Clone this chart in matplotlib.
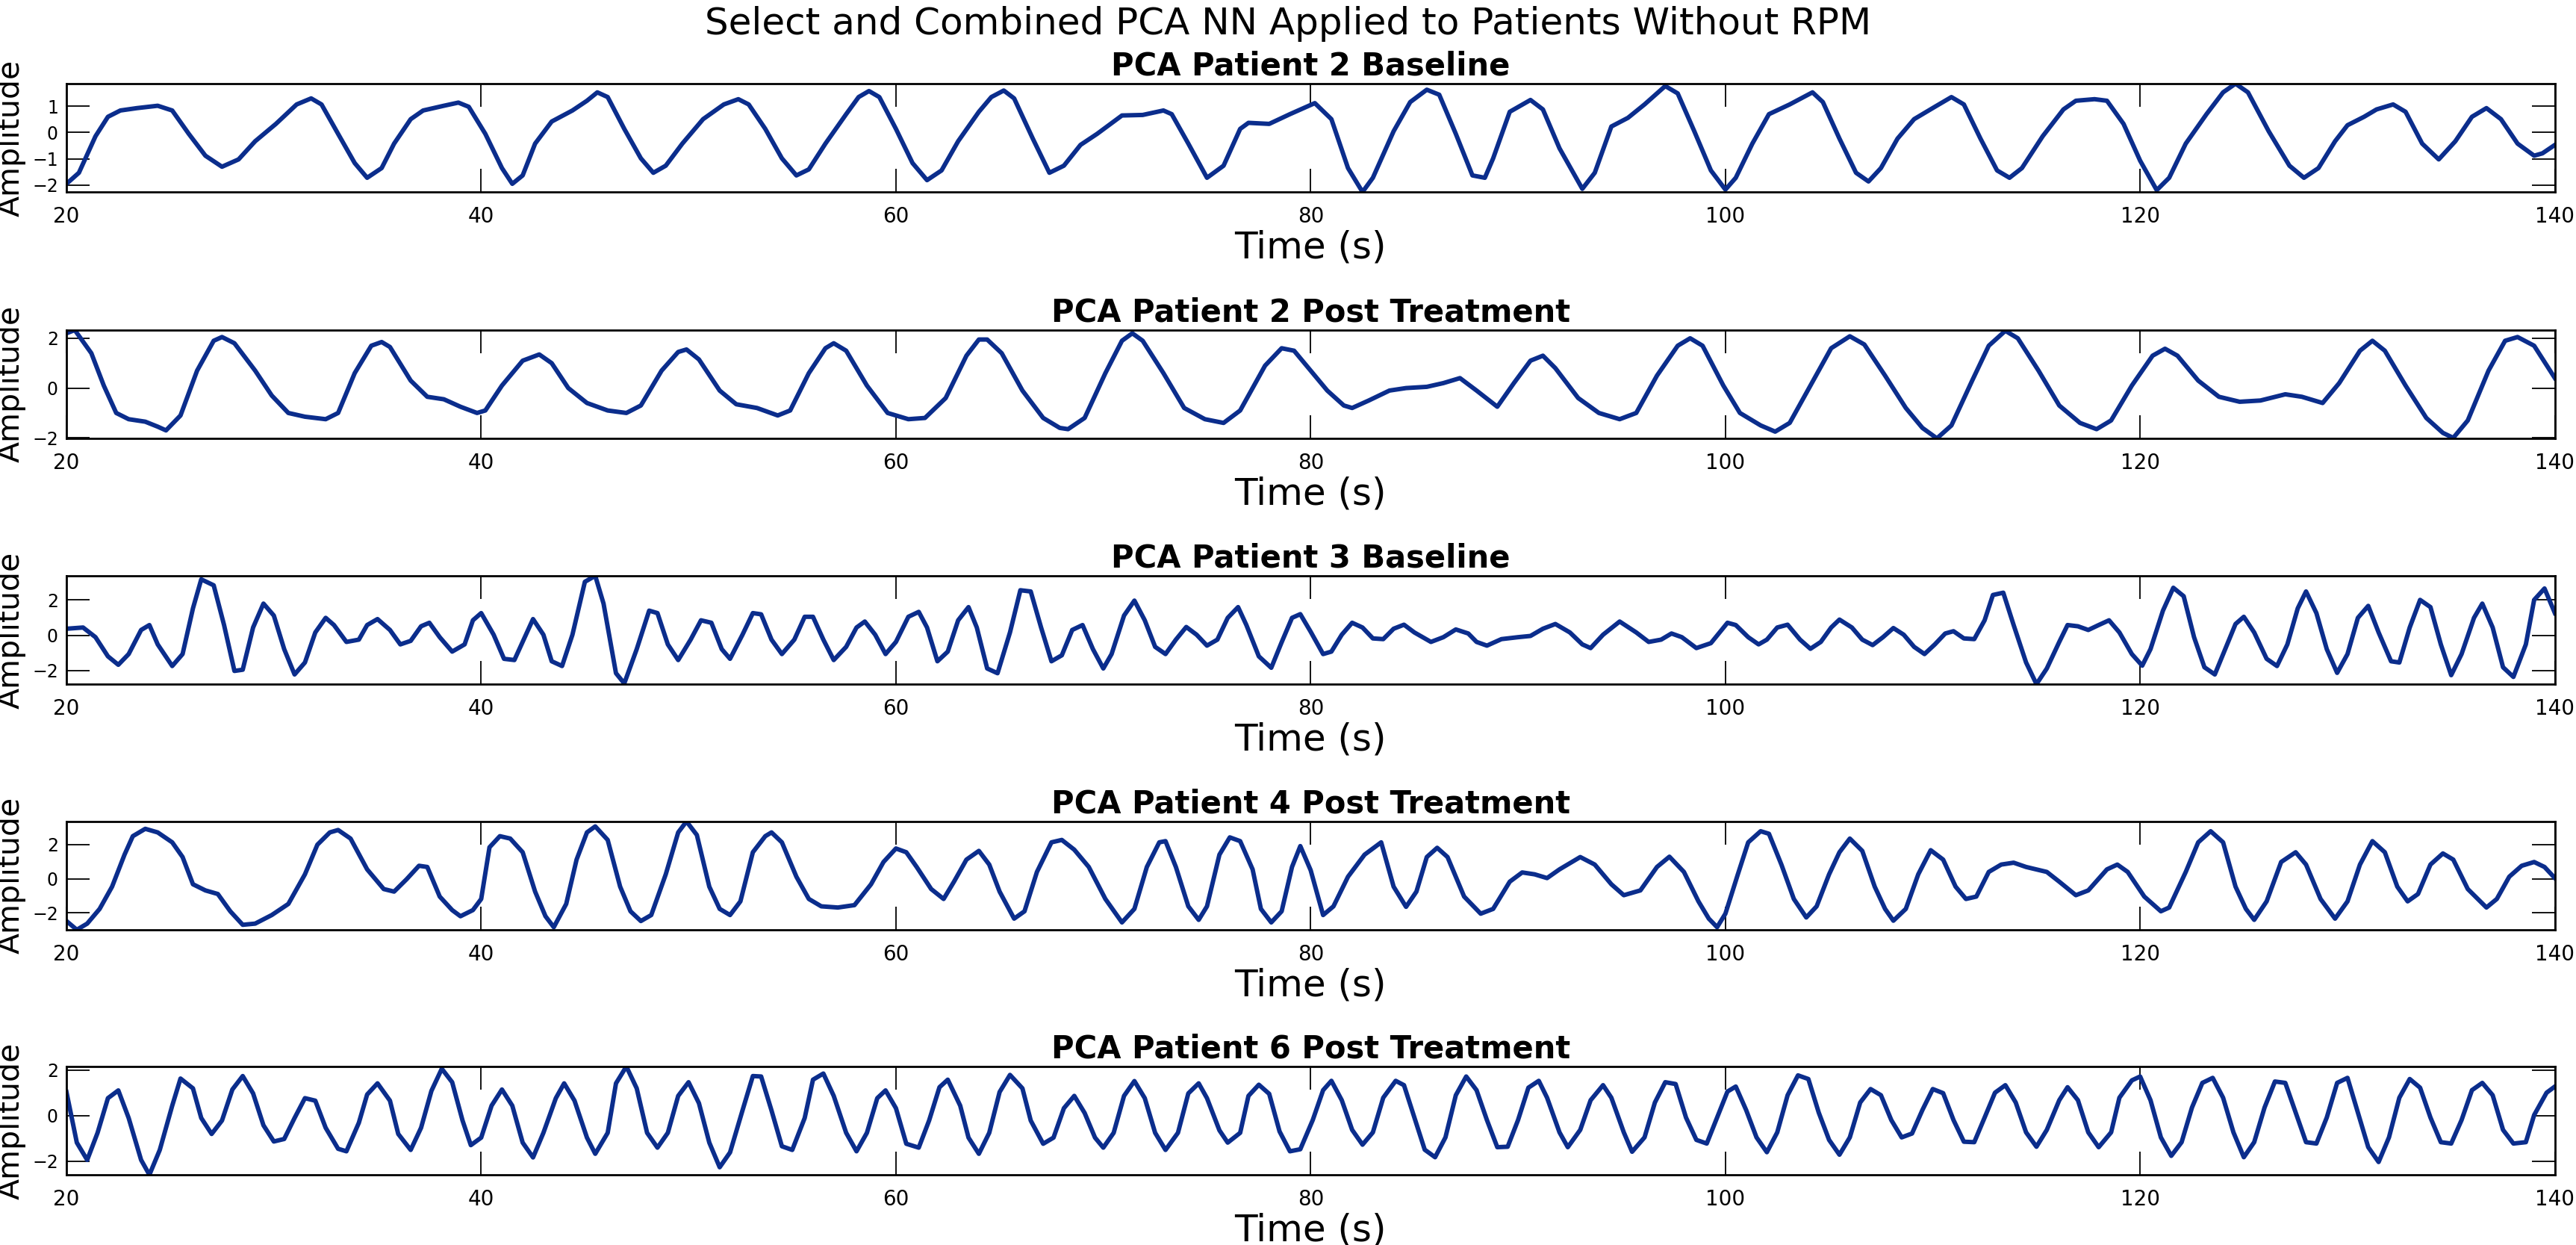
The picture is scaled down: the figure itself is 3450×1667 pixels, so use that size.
import matplotlib
matplotlib.use('Agg')
import matplotlib.pyplot as plt

# (tempo [s], ampiezza)
p2_base = [
    (20.0, -1.95), (20.6, -1.53), (21.4, -0.14), (22.0, 0.6), (22.6, 0.84), (23.4, 0.93), (24.4, 1.02),
    (25.1, 0.84), (25.9, -0.05), (26.7, -0.88), (27.5, -1.3), (28.3, -1.02), (29.1, -0.33), (30.1, 0.33),
    (31.1, 1.07), (31.8, 1.3), (32.3, 1.07), (33.1, -0.05), (33.9, -1.16), (34.5, -1.72), (35.2, -1.35),
    (35.8, -0.42), (36.6, 0.51), (37.2, 0.84), (38.2, 1.02), (38.9, 1.14), (39.4, 0.98), (40.2, -0.05),
    (41.0, -1.35), (41.5, -1.95), (42.0, -1.63), (42.6, -0.42), (43.4, 0.42), (44.4, 0.84), (45.1, 1.21),
    (45.6, 1.53), (46.1, 1.35), (46.9, 0.14), (47.7, -0.98), (48.3, -1.53), (48.9, -1.26), (49.7, -0.42),
    (50.7, 0.51), (51.7, 1.07), (52.4, 1.27), (52.9, 1.07), (53.7, 0.14), (54.5, -0.98), (55.2, -1.63),
    (55.8, -1.4), (56.6, -0.42), (57.6, 0.7), (58.2, 1.35), (58.7, 1.58), (59.2, 1.35), (60.0, 0.14),
    (60.8, -1.16), (61.5, -1.81), (62.2, -1.44), (63.0, -0.33), (64.0, 0.79), (64.6, 1.35), (65.2, 1.6),
    (65.7, 1.3), (66.6, -0.23), (67.4, -1.53), (68.1, -1.26), (68.9, -0.47), (69.7, -0.05), (70.9, 0.65),
    (71.9, 0.67), (72.9, 0.84), (73.3, 0.7), (74.1, -0.42), (75.0, -1.72), (75.8, -1.26), (76.6, 0.14),
    (77.0, 0.37), (78.0, 0.33), (79.0, 0.7), (80.2, 1.12), (81.0, 0.51), (81.8, -1.35), (82.5, -2.26),
    (83.0, -1.72), (84.0, 0.05), (84.8, 1.16), (85.6, 1.63), (86.2, 1.44), (87.0, -0.05), (87.8, -1.63),
    (88.4, -1.72), (88.8, -0.98), (89.6, 0.79), (90.6, 1.24), (91.2, 0.88), (92.0, -0.6), (93.1, -2.14),
    (93.7, -1.53), (94.5, 0.23), (95.3, 0.56), (96.1, 1.07), (97.1, 1.77), (97.7, 1.49), (98.5, 0.05),
    (99.3, -1.44), (100.0, -2.17), (100.5, -1.72), (101.3, -0.42), (102.1, 0.7), (103.1, 1.07),
    (104.2, 1.53), (104.7, 1.16), (105.5, -0.23), (106.3, -1.53), (106.9, -1.86), (107.5, -1.35),
    (108.3, -0.23), (109.1, 0.51), (110.1, 0.98), (110.9, 1.35), (111.5, 1.07), (112.3, -0.23),
    (113.1, -1.44), (113.7, -1.72), (114.3, -1.35), (115.3, -0.14), (116.3, 0.88), (116.9, 1.21),
    (117.8, 1.27), (118.4, 1.21), (119.2, 0.33), (120.0, -1.07), (120.8, -2.19), (121.4, -1.72),
    (122.2, -0.42), (123.2, 0.7), (124.0, 1.53), (124.6, 1.86), (125.2, 1.53), (126.2, 0.05),
    (127.2, -1.26), (127.9, -1.72), (128.6, -1.35), (129.4, -0.33), (130.0, 0.28), (130.8, 0.6),
    (131.4, 0.88), (132.2, 1.07), (132.8, 0.79), (133.6, -0.42), (134.4, -1.02), (135.2, -0.33),
    (136.0, 0.6), (136.7, 0.93), (137.4, 0.51), (138.2, -0.42), (139.0, -0.88), (139.4, -0.79), (140.0, -0.47),
]

p2_post = [
    (20.0, 2.2), (20.4, 2.33), (21.2, 1.4), (21.8, 0.1), (22.4, -1.0), (23.0, -1.25), (23.8, -1.35),
    (24.4, -1.55), (24.8, -1.7), (25.5, -1.1), (26.3, 0.7), (27.1, 1.9), (27.5, 2.05), (28.1, 1.8),
    (29.1, 0.7), (29.9, -0.3), (30.7, -1.0), (31.5, -1.15), (32.5, -1.25), (33.1, -1.0), (33.9, 0.6),
    (34.7, 1.7), (35.2, 1.85), (35.6, 1.65), (36.6, 0.3), (37.4, -0.35), (38.2, -0.45), (39.0, -0.75),
    (39.8, -1.0), (40.2, -0.9), (41.0, 0.1), (42.0, 1.1), (42.8, 1.35), (43.4, 1.0), (44.2, 0.0),
    (45.1, -0.6), (46.1, -0.9), (47.0, -1.0), (47.7, -0.7), (48.7, 0.7), (49.5, 1.45), (49.9, 1.55),
    (50.5, 1.15), (51.5, -0.1), (52.3, -0.65), (53.3, -0.8), (54.3, -1.1), (54.9, -0.9), (55.8, 0.6),
    (56.6, 1.6), (57.0, 1.8), (57.6, 1.5), (58.6, 0.1), (59.6, -1.0), (60.6, -1.25), (61.4, -1.2),
    (62.4, -0.4), (63.4, 1.3), (64.0, 1.95), (64.4, 1.95), (65.1, 1.4), (66.1, -0.1), (67.1, -1.2),
    (67.9, -1.6), (68.3, -1.65), (69.1, -1.2), (70.1, 0.6), (70.9, 1.9), (71.4, 2.2), (71.9, 1.9),
    (72.9, 0.6), (73.9, -0.8), (74.9, -1.25), (75.8, -1.4), (76.6, -0.9), (77.8, 0.9), (78.6, 1.6),
    (79.2, 1.5), (80.0, 0.7), (80.8, -0.1), (81.6, -0.7), (82.0, -0.8), (82.8, -0.5), (83.8, -0.1),
    (84.6, 0.0), (85.6, 0.05), (86.4, 0.2), (87.2, 0.4), (88.0, -0.1), (89.0, -0.75), (89.8, 0.2),
    (90.6, 1.1), (91.2, 1.3), (91.8, 0.8), (92.9, -0.4), (93.9, -1.0), (94.9, -1.25), (95.7, -1.0),
    (96.7, 0.5), (97.7, 1.7), (98.3, 2.0), (98.9, 1.7), (99.9, 0.1), (100.7, -1.0), (101.7, -1.5),
    (102.4, -1.75), (103.1, -1.4), (104.1, 0.1), (105.1, 1.6), (106.0, 2.08), (106.7, 1.75),
    (107.7, 0.5), (108.7, -0.8), (109.5, -1.6), (110.2, -2.02), (110.9, -1.5), (111.9, 0.3),
    (112.7, 1.7), (113.5, 2.3), (114.1, 2.0), (115.1, 0.7), (116.1, -0.7), (117.1, -1.4),
    (117.9, -1.65), (118.6, -1.3), (119.6, 0.1), (120.6, 1.3), (121.2, 1.58), (121.8, 1.3),
    (122.8, 0.3), (123.8, -0.35), (124.8, -0.55), (125.8, -0.5), (127.0, -0.25), (127.8, -0.35),
    (128.8, -0.6), (129.6, 0.2), (130.6, 1.5), (131.2, 1.9), (131.8, 1.5), (132.8, 0.1), (133.8, -1.2),
    (134.6, -1.8), (135.1, -2.0), (135.8, -1.3), (136.8, 0.7), (137.6, 1.9), (138.2, 2.05), (139.0, 1.7),
    (140.0, 0.4),
]

p3_base = [
    (20.0, 0.37), (20.8, 0.44), (21.4, -0.11), (22.0, -1.2), (22.5, -1.68), (23.0, -1.07), (23.6, 0.3),
    (24.0, 0.58), (24.4, -0.52), (25.1, -1.75), (25.6, -1.07), (26.1, 1.53), (26.5, 3.18), (27.1, 2.84),
    (27.6, 0.58), (28.1, -2.03), (28.5, -1.96), (29.0, 0.44), (29.5, 1.8), (30.0, 1.12), (30.5, -0.79),
    (31.0, -2.23), (31.5, -1.55), (32.0, 0.16), (32.5, 0.99), (32.9, 0.58), (33.5, -0.38), (34.1, -0.25),
    (34.5, 0.58), (35.0, 0.92), (35.6, 0.3), (36.1, -0.52), (36.6, -0.32), (37.1, 0.51), (37.5, 0.71),
    (38.0, -0.11), (38.6, -0.93), (39.2, -0.52), (39.6, 0.85), (40.0, 1.26), (40.6, 0.03), (41.1, -1.34),
    (41.6, -1.41), (42.1, -0.11), (42.5, 0.92), (43.0, 0.03), (43.4, -1.48), (43.9, -1.75), (44.4, 0.03),
    (45.0, 3.04), (45.5, 3.38), (45.9, 1.8), (46.5, -2.16), (46.9, -2.74), (47.5, -0.79), (48.1, 1.4),
    (48.5, 1.26), (49.0, -0.52), (49.5, -1.41), (50.1, -0.25), (50.6, 0.85), (51.1, 0.71), (51.6, -0.79),
    (52.0, -1.34), (52.6, 0.03), (53.1, 1.26), (53.5, 1.19), (54.0, -0.25), (54.5, -1.07), (55.1, -0.25),
    (55.6, 1.05), (56.0, 1.05), (56.5, -0.25), (57.0, -1.41), (57.6, -0.66), (58.1, 0.44), (58.5, 0.78),
    (59.0, 0.03), (59.5, -1.07), (60.0, -0.38), (60.6, 1.05), (61.1, 1.33), (61.5, 0.44), (62.0, -1.48),
    (62.5, -0.93), (63.0, 0.85), (63.5, 1.6), (63.9, 0.44), (64.4, -1.89), (64.9, -2.16), (65.5, 0.16),
    (66.0, 2.56), (66.5, 2.49), (67.0, 0.44), (67.5, -1.48), (68.0, -1.14), (68.5, 0.3), (69.0, 0.58),
    (69.5, -0.79), (70.0, -1.89), (70.4, -1.07), (71.0, 1.12), (71.5, 1.97), (72.0, 0.85), (72.5, -0.66),
    (73.0, -1.07), (73.5, -0.25), (74.0, 0.47), (74.5, 0.03), (75.0, -0.59), (75.5, -0.25), (76.0, 0.99),
    (76.5, 1.6), (76.9, 0.58), (77.5, -1.2), (78.1, -1.85), (78.6, -0.4), (79.1, 0.99), (79.5, 1.2),
    (80.0, 0.2), (80.6, -1.07), (81.0, -0.93), (81.5, 0.03), (82.0, 0.71), (82.5, 0.44), (83.0, -0.18),
    (83.5, -0.22), (84.0, 0.37), (84.5, 0.6), (85.0, 0.16), (85.8, -0.38), (86.4, -0.11), (87.0, 0.33),
    (87.6, 0.1), (88.0, -0.38), (88.5, -0.59), (89.2, -0.22), (90.0, -0.11), (90.6, -0.04), (91.2, 0.37),
    (91.8, 0.64), (92.5, 0.16), (93.1, -0.52), (93.5, -0.73), (94.1, 0.03), (94.9, 0.78), (95.7, 0.16),
    (96.3, -0.38), (96.9, -0.25), (97.4, 0.1), (97.9, -0.11), (98.6, -0.73), (99.3, -0.45), (100.1, 0.71),
    (100.5, 0.58), (101.1, -0.11), (101.6, -0.52), (102.0, -0.25), (102.5, 0.44), (103.0, 0.6),
    (103.6, -0.25), (104.1, -0.77), (104.6, -0.38), (105.1, 0.44), (105.5, 0.89), (106.1, 0.44),
    (106.6, -0.25), (107.1, -0.56), (107.6, -0.11), (108.1, 0.41), (108.6, 0.03), (109.1, -0.66),
    (109.6, -1.07), (110.1, -0.52), (110.6, 0.1), (111.0, 0.23), (111.5, -0.18), (112.0, -0.22),
    (112.5, 0.85), (112.9, 2.29), (113.4, 2.42), (113.9, 0.58), (114.5, -1.55), (115.0, -2.78),
    (115.5, -1.89), (116.1, -0.38), (116.5, 0.58), (117.0, 0.51), (117.5, 0.3), (118.0, 0.58),
    (118.5, 0.85), (119.0, 0.16), (119.6, -1.07), (120.1, -1.73), (120.5, -0.79), (121.1, 1.4),
    (121.6, 2.7), (122.1, 2.22), (122.6, -0.11), (123.1, -1.82), (123.6, -2.23), (124.1, -0.79),
    (124.6, 0.64), (125.0, 1.05), (125.5, 0.16), (126.1, -1.34), (126.6, -1.75), (127.1, -0.52),
    (127.6, 1.53), (128.0, 2.49), (128.5, 1.26), (129.0, -0.79), (129.5, -2.14), (130.0, -1.07),
    (130.5, 0.99), (131.0, 1.67), (131.5, 0.16), (132.1, -1.48), (132.5, -1.55), (133.0, 0.44),
    (133.5, 2.01), (134.0, 1.6), (134.5, -0.52), (135.0, -2.27), (135.5, -1.07), (136.1, 0.99),
    (136.5, 1.8), (137.0, 0.44), (137.5, -1.82), (138.0, -2.37), (138.6, -0.52), (139.0, 2.01),
    (139.5, 2.66), (140.0, 1.26),
]

p4_post = [
    (20.0, -2.47), (20.5, -2.98), (21.0, -2.62), (21.6, -1.76), (22.2, -0.46), (22.8, 1.41), (23.2, 2.49),
    (23.8, 2.92), (24.4, 2.71), (25.1, 2.13), (25.6, 1.27), (26.1, -0.32), (26.7, -0.68), (27.3, -0.89),
    (27.9, -1.9), (28.5, -2.69), (29.1, -2.62), (29.9, -2.12), (30.7, -1.47), (31.5, 0.26), (32.1, 1.99),
    (32.7, 2.71), (33.1, 2.85), (33.7, 2.35), (34.5, 0.55), (35.3, -0.6), (35.8, -0.75), (36.4, -0.03),
    (37.0, 0.76), (37.4, 0.69), (38.0, -1.04), (38.6, -1.83), (39.0, -2.19), (39.6, -1.83), (40.0, -1.18),
    (40.4, 1.84), (40.9, 2.49), (41.4, 2.35), (42.0, 1.55), (42.6, -0.75), (43.1, -2.19), (43.5, -2.83),
    (44.1, -1.47), (44.6, 1.12), (45.1, 2.71), (45.5, 3.06), (46.1, 2.27), (46.7, -0.46), (47.2, -1.9),
    (47.7, -2.47), (48.2, -2.12), (48.9, 0.26), (49.5, 2.71), (49.9, 3.35), (50.4, 2.56), (51.0, -0.46),
    (51.5, -1.76), (52.0, -2.12), (52.5, -1.32), (53.1, 1.55), (53.7, 2.49), (54.0, 2.71), (54.5, 2.13),
    (55.2, 0.12), (55.8, -1.18), (56.4, -1.61), (57.2, -1.68), (58.0, -1.54), (58.8, -0.32), (59.4, 0.98),
    (60.0, 1.77), (60.5, 1.55), (61.0, 0.69), (61.7, -0.6), (62.3, -1.18), (62.8, -0.17), (63.4, 1.12),
    (64.0, 1.63), (64.5, 0.83), (65.0, -0.75), (65.7, -2.33), (66.2, -1.9), (66.8, 0.4), (67.5, 2.13),
    (68.0, 2.27), (68.6, 1.7), (69.3, 0.69), (70.1, -1.18), (70.9, -2.55), (71.5, -1.76), (72.1, 0.69),
    (72.7, 2.13), (73.0, 2.2), (73.5, 0.69), (74.1, -1.61), (74.6, -2.4), (75.0, -1.61), (75.6, 1.41),
    (76.1, 2.42), (76.6, 2.2), (77.2, 0.55), (77.6, -1.76), (78.1, -2.55), (78.6, -1.9), (79.1, 0.69),
    (79.5, 1.91), (80.0, 0.5), (80.6, -2.12), (81.1, -1.61), (81.8, 0.12), (82.6, 1.41), (83.4, 2.13),
    (84.0, -0.46), (84.6, -1.64), (85.1, -0.75), (85.6, 1.27), (86.1, 1.81), (86.6, 1.27), (87.4, -1.04),
    (88.2, -2.04), (88.8, -1.76), (89.6, -0.17), (90.2, 0.37), (90.8, 0.26), (91.4, 0.04), (92.0, 0.55),
    (93.0, 1.27), (93.7, 0.83), (94.5, -0.32), (95.1, -0.96), (95.9, -0.68), (96.7, 0.69), (97.3, 1.29),
    (98.0, 0.4), (98.7, -1.32), (99.2, -2.33), (99.6, -2.83), (100.0, -2.04), (100.6, 0.26), (101.1, 2.13),
    (101.7, 2.78), (102.1, 2.63), (102.7, 0.83), (103.3, -1.18), (103.9, -2.26), (104.4, -1.61),
    (105.0, 0.26), (105.5, 1.55), (106.0, 2.35), (106.6, 1.63), (107.2, -0.46), (107.7, -1.76),
    (108.1, -2.45), (108.7, -1.76), (109.3, 0.26), (109.9, 1.67), (110.5, 1.12), (111.1, -0.46),
    (111.6, -1.18), (112.1, -1.04), (112.7, 0.4), (113.3, 0.83), (113.9, 0.94), (114.5, 0.69),
    (115.5, 0.4), (116.1, -0.17), (116.9, -0.96), (117.5, -0.68), (118.4, 0.55), (118.9, 0.83),
    (119.4, 0.4), (120.2, -1.04), (121.0, -1.9), (121.4, -1.68), (122.2, 0.4), (122.8, 2.13),
    (123.4, 2.78), (124.0, 2.13), (124.6, -0.46), (125.1, -1.76), (125.5, -2.4), (126.1, -1.32),
    (126.8, 0.98), (127.5, 1.55), (128.0, 0.83), (128.7, -1.18), (129.4, -2.33), (130.0, -1.32),
    (130.6, 0.83), (131.2, 2.2), (131.8, 1.55), (132.4, -0.46), (132.9, -1.32), (133.4, -0.89),
    (134.0, 0.83), (134.6, 1.48), (135.1, 1.12), (135.8, -0.6), (136.7, -1.68), (137.2, -1.18),
    (137.8, 0.12), (138.4, 0.76), (139.0, 0.98), (139.5, 0.69), (140.0, 0.04),
]

p6_post = [
    (20.0, 1.03), (20.5, -1.19), (21.0, -1.95), (21.5, -0.76), (22.0, 0.76), (22.5, 1.1), (23.0, -0.11),
    (23.6, -1.95), (24.0, -2.6), (24.5, -1.51), (25.1, 0.43), (25.5, 1.62), (26.1, 1.19), (26.5, -0.11),
    (27.0, -0.81), (27.5, -0.22), (28.0, 1.14), (28.5, 1.73), (29.0, 0.97), (29.5, -0.43), (30.0, -1.14),
    (30.5, -1.03), (31.0, -0.11), (31.5, 0.76), (32.0, 0.65), (32.5, -0.54), (33.1, -1.46), (33.5, -1.57),
    (34.1, -0.32), (34.5, 0.92), (35.0, 1.41), (35.6, 0.65), (36.0, -0.81), (36.6, -1.51), (37.1, -0.54),
    (37.6, 1.08), (38.1, 2.05), (38.6, 1.46), (39.1, -0.22), (39.5, -1.3), (40.0, -0.97), (40.5, 0.43),
    (41.0, 1.14), (41.5, 0.43), (42.0, -1.19), (42.5, -1.84), (43.0, -0.76), (43.6, 0.76), (44.0, 1.41),
    (44.5, 0.65), (45.1, -0.97), (45.5, -1.68), (46.1, -0.76), (46.5, 1.41), (47.0, 2.15), (47.5, 1.19),
    (48.0, -0.76), (48.5, -1.41), (49.0, -0.76), (49.5, 0.86), (50.0, 1.46), (50.5, 0.54), (51.0, -1.19),
    (51.5, -2.27), (52.0, -1.62), (52.6, 0.22), (53.1, 1.73), (53.5, 1.71), (54.0, 0.22), (54.5, -1.35),
    (55.0, -1.51), (55.6, -0.11), (56.0, 1.57), (56.5, 1.84), (57.0, 0.86), (57.6, -0.76), (58.1, -1.57),
    (58.6, -0.76), (59.1, 0.76), (59.5, 1.1), (60.0, 0.32), (60.5, -1.24), (61.1, -1.41), (61.6, -0.22),
    (62.1, 1.24), (62.5, 1.57), (63.1, 0.43), (63.5, -0.97), (64.0, -1.68), (64.5, -0.76), (65.0, 1.03),
    (65.5, 1.78), (66.1, 1.19), (66.5, -0.22), (67.1, -1.24), (67.6, -0.97), (68.1, 0.32), (68.6, 0.86),
    (69.1, 0.11), (69.6, -0.97), (70.0, -1.41), (70.5, -0.76), (71.0, 0.86), (71.5, 1.51), (72.0, 0.76),
    (72.5, -0.76), (73.0, -1.51), (73.6, -0.76), (74.1, 0.97), (74.6, 1.41), (75.0, 0.76), (75.6, -0.65),
    (76.0, -1.19), (76.6, -0.76), (77.0, 0.86), (77.5, 1.35), (78.0, 0.95), (78.5, -0.7), (79.0, -1.57),
    (79.5, -1.48), (80.1, -0.2), (80.6, 1.11), (81.0, 1.52), (81.5, 0.67), (82.0, -0.63), (82.5, -1.28),
    (83.0, -0.74), (83.5, 0.78), (84.1, 1.52), (84.5, 1.33), (85.0, -0.09), (85.5, -1.5), (86.0, -1.83),
    (86.5, -0.96), (87.0, 0.89), (87.5, 1.71), (88.0, 1.11), (88.5, -0.2), (89.0, -1.39), (89.5, -1.37),
    (90.0, -0.2), (90.5, 1.22), (91.0, 1.52), (91.4, 0.78), (92.0, -0.74), (92.4, -1.39), (93.0, -0.63),
    (93.5, 0.67), (94.1, 1.33), (94.5, 0.78), (95.1, -0.74), (95.5, -1.59), (96.1, -0.96), (96.6, 0.57),
    (97.1, 1.46), (97.6, 1.38), (98.1, -0.09), (98.6, -1.07), (99.1, -1.23), (99.6, -0.09), (100.1, 1.05),
    (100.5, 1.27), (101.0, 0.24), (101.5, -0.96), (102.0, -1.61), (102.5, -0.74), (103.0, 0.89),
    (103.5, 1.76), (104.0, 1.6), (104.5, 0.13), (105.0, -1.07), (105.5, -1.72), (106.0, -0.96),
    (106.5, 0.57), (107.0, 1.16), (107.5, 0.89), (108.0, -0.2), (108.5, -0.96), (109.0, -0.79),
    (109.5, 0.24), (110.0, 1.16), (110.5, 0.98), (111.0, -0.2), (111.5, -1.15), (112.0, -1.17),
    (112.5, -0.09), (113.0, 1.0), (113.5, 1.33), (114.0, 0.57), (114.5, -0.74), (115.0, -1.37),
    (115.5, -0.63), (116.1, 0.67), (116.5, 1.24), (117.0, 0.67), (117.5, -0.74), (118.0, -1.39),
    (118.6, -0.74), (119.0, 0.78), (119.6, 1.54), (120.0, 1.71), (120.5, 0.67), (121.0, -0.96),
    (121.5, -1.77), (122.0, -1.17), (122.5, 0.35), (123.0, 1.43), (123.5, 1.65), (124.0, 0.78),
    (124.5, -0.74), (125.0, -1.83), (125.5, -1.17), (126.0, 0.35), (126.5, 1.49), (127.0, 1.43),
    (127.5, 0.13), (128.0, -1.17), (128.5, -1.23), (129.0, -0.09), (129.5, 1.43), (130.0, 1.65),
    (130.5, 0.13), (131.0, -1.39), (131.5, -2.04), (132.0, -0.96), (132.5, 0.78), (133.0, 1.6),
    (133.5, 1.22), (134.0, -0.09), (134.5, -1.17), (135.0, -1.23), (135.5, -0.2), (136.0, 1.11),
    (136.5, 1.43), (137.0, 0.89), (137.5, -0.63), (138.0, -1.23), (138.6, -1.17), (139.0, 0.02),
    (139.6, 1.0), (140.0, 1.27),
]

titoli = ['PCA Patient 2 Baseline', 'PCA Patient 2 Post Treatment', 'PCA Patient 3 Baseline',
          'PCA Patient 4 Post Treatment', 'PCA Patient 6 Post Treatment']
serie = [p2_base, p2_post, p3_base, p4_post, p6_post]
yticks = [[-2, -1, 0, 1], [-2, 0, 2], [-2, 0, 2], [-2, 0, 2], [-2, 0, 2]]
xticks = [20, 40, 60, 80, 100, 120, 140]

# ==========================================================================
fig = plt.figure(figsize=(34.5, 16.67), dpi=100)
fig.suptitle('Select and Combined PCA NN Applied to Patients Without RPM', fontsize=36, y=0.995)

bottoms = [0.8458, 0.6479, 0.4505, 0.2532, 0.0564]
colore = '#0b2d8c'

for ii in range(5):
    tt, aa = zip(*serie[ii])
    ax = fig.add_axes([0.0258, bottoms[ii], 0.966, 0.087])
    ax.plot(tt, aa, color=colore, lw=4.3)
    ax.set_xlim(20, 140)
    ax.set_ylim(min(aa), max(aa))
    ax.set_xticks(xticks)
    ax.set_yticks(yticks[ii])
    ax.tick_params(direction='in', length=22, width=1.3, top=True, right=True)
    ax.tick_params(axis='x', labelsize=20, pad=14)
    ax.tick_params(axis='y', labelsize=17, pad=8)
    for s in ax.spines.values():
        s.set_linewidth(2)
    ax.set_title(titoli[ii], fontsize=30, fontweight='bold', pad=8)
    ax.set_xlabel('Time (s)', fontsize=36, labelpad=2)
    ax.set_ylabel('Amplitude', fontsize=29.5, labelpad=6)

fig.savefig('out.png', dpi=100)
